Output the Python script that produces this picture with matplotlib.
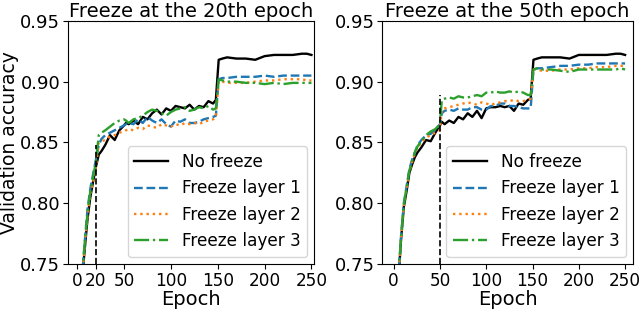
import matplotlib
matplotlib.use('Agg')
import matplotlib.pyplot as plt

epochs = [5, 8, 11, 14, 17, 20, 23, 26, 30, 35, 40, 45, 50, 52, 55,
          60, 65, 70, 75, 80, 85, 90, 95, 100, 105, 110, 115, 120, 125, 130, 135, 140, 145,
          148, 151, 155, 160, 170, 180, 190, 200, 210, 220, 230, 240, 245, 250]

# freeze at the 20th epoch
left_none = [0.735, 0.762, 0.787, 0.805, 0.818, 0.830,
             0.840, 0.843, 0.848, 0.856, 0.852, 0.860, 0.864, 0.866, 0.865,
             0.868, 0.865, 0.871, 0.869, 0.874, 0.877, 0.873, 0.878, 0.876, 0.880, 0.879, 0.878, 0.881, 0.877, 0.880, 0.879, 0.884, 0.882,
             0.885, 0.918, 0.919, 0.920, 0.919, 0.919, 0.918, 0.921, 0.922, 0.922, 0.922, 0.923, 0.923, 0.922]
left_l1 = [0.738, 0.768, 0.795, 0.812, 0.824, 0.836,
           0.848, 0.853, 0.856, 0.858, 0.860, 0.862, 0.864, 0.865, 0.866,
           0.865, 0.869, 0.866, 0.871, 0.868, 0.866, 0.869, 0.865, 0.863, 0.868, 0.867, 0.869, 0.866, 0.866, 0.867, 0.869, 0.870, 0.871,
           0.872, 0.902, 0.903, 0.903, 0.904, 0.904, 0.904, 0.905, 0.904, 0.905, 0.905, 0.905, 0.905, 0.905]
left_l2 = [0.736, 0.765, 0.790, 0.808, 0.818, 0.830,
           0.850, 0.851, 0.852, 0.855, 0.856, 0.858, 0.859, 0.860, 0.861,
           0.860, 0.862, 0.861, 0.864, 0.863, 0.862, 0.865, 0.864, 0.863, 0.865, 0.864, 0.866, 0.865, 0.866, 0.865, 0.867, 0.868, 0.869,
           0.871, 0.900, 0.900, 0.899, 0.899, 0.899, 0.900, 0.901, 0.901, 0.902, 0.902, 0.902, 0.901, 0.901]
left_l3 = [0.737, 0.767, 0.792, 0.810, 0.822, 0.834,
           0.856, 0.858, 0.860, 0.863, 0.866, 0.868, 0.869, 0.868, 0.866,
           0.869, 0.870, 0.872, 0.875, 0.877, 0.876, 0.874, 0.872, 0.875, 0.877, 0.878, 0.879, 0.876, 0.877, 0.879, 0.878, 0.880, 0.877,
           0.878, 0.902, 0.901, 0.900, 0.900, 0.899, 0.899, 0.898, 0.899, 0.898, 0.899, 0.899, 0.899, 0.899]

# freeze at the 50th epoch
right_none = [0.735, 0.770, 0.797, 0.810, 0.825, 0.832,
              0.838, 0.842, 0.846, 0.852, 0.851, 0.858, 0.864, 0.867, 0.865,
              0.868, 0.866, 0.871, 0.869, 0.874, 0.871, 0.876, 0.870, 0.878, 0.879, 0.879, 0.880, 0.879, 0.880, 0.876, 0.882, 0.881, 0.885,
              0.886, 0.918, 0.919, 0.920, 0.920, 0.920, 0.919, 0.922, 0.922, 0.922, 0.922, 0.923, 0.923, 0.922]
right_l1 = [0.738, 0.773, 0.800, 0.814, 0.828, 0.836,
            0.842, 0.848, 0.852, 0.856, 0.857, 0.860, 0.865, 0.874, 0.876,
            0.877, 0.876, 0.878, 0.877, 0.877, 0.879, 0.879, 0.877, 0.877, 0.880, 0.880, 0.882, 0.882, 0.880, 0.880, 0.879, 0.878, 0.878,
            0.878, 0.910, 0.911, 0.911, 0.912, 0.913, 0.913, 0.914, 0.914, 0.915, 0.915, 0.915, 0.915, 0.915]
right_l2 = [0.736, 0.771, 0.798, 0.812, 0.826, 0.834,
            0.841, 0.846, 0.850, 0.854, 0.856, 0.858, 0.860, 0.877, 0.878,
            0.879, 0.880, 0.881, 0.882, 0.883, 0.882, 0.881, 0.883, 0.882, 0.881, 0.882, 0.883, 0.884, 0.884, 0.885, 0.884, 0.884, 0.885,
            0.886, 0.910, 0.910, 0.909, 0.909, 0.910, 0.910, 0.911, 0.911, 0.912, 0.912, 0.913, 0.913, 0.913]
right_l3 = [0.737, 0.772, 0.799, 0.813, 0.827, 0.835,
            0.842, 0.847, 0.851, 0.856, 0.859, 0.861, 0.865, 0.885, 0.886,
            0.887, 0.886, 0.888, 0.887, 0.887, 0.888, 0.889, 0.888, 0.891, 0.891, 0.892, 0.891, 0.891, 0.892, 0.891, 0.892, 0.891, 0.889,
            0.889, 0.910, 0.911, 0.910, 0.910, 0.909, 0.908, 0.910, 0.910, 0.910, 0.910, 0.910, 0.911, 0.910]

labels = ['No freeze', 'Freeze layer 1', 'Freeze layer 2', 'Freeze layer 3']
colors = ['black', '#1f77b4', '#ff7f0e', '#2ca02c']
styles = ['-', '--', ':', '-.']

panels = [
    ('Freeze at the 20th epoch', 20, 0.848, [left_none, left_l1, left_l2, left_l3],
     [0, 20, 50, 100, 150, 200, 250], (-10, 253)),
    ('Freeze at the 50th epoch', 50, 0.889, [right_none, right_l1, right_l2, right_l3],
     [0, 50, 100, 150, 200, 250], (-12.5, 258.5)),
]

fig = plt.figure(figsize=(6.4, 3.12), dpi=100)
axes = [fig.add_axes([0.106, 0.154, 0.385, 0.779]),
        fig.add_axes([0.597, 0.154, 0.392, 0.779])]

for ax, (title, fe, top, series, xt, xl) in zip(axes, panels):
    for ys, lab, c, ls in zip(series, labels, colors, styles):
        ax.plot(epochs, ys, color=c, linestyle=ls, linewidth=1.7, label=lab)
    ax.vlines(fe, 0.75, top, colors='black', linestyles='--', linewidth=1.2)
    ax.set_xlim(*xl)
    ax.set_ylim(0.75, 0.95)
    ax.set_xticks(xt)
    ax.set_yticks([0.75, 0.80, 0.85, 0.90, 0.95])
    ax.tick_params(axis='x', labelsize=12.2, pad=2)
    ax.tick_params(axis='y', labelsize=13, pad=2)
    ax.set_title(title, fontsize=14, pad=2)
    ax.set_xlabel('Epoch', fontsize=14, labelpad=0)
    ax.legend(loc='lower right', fontsize=12.2, borderaxespad=0.4)

axes[0].set_ylabel('Validation accuracy', fontsize=13.5, labelpad=1)

fig.savefig('out.png', dpi=100)
